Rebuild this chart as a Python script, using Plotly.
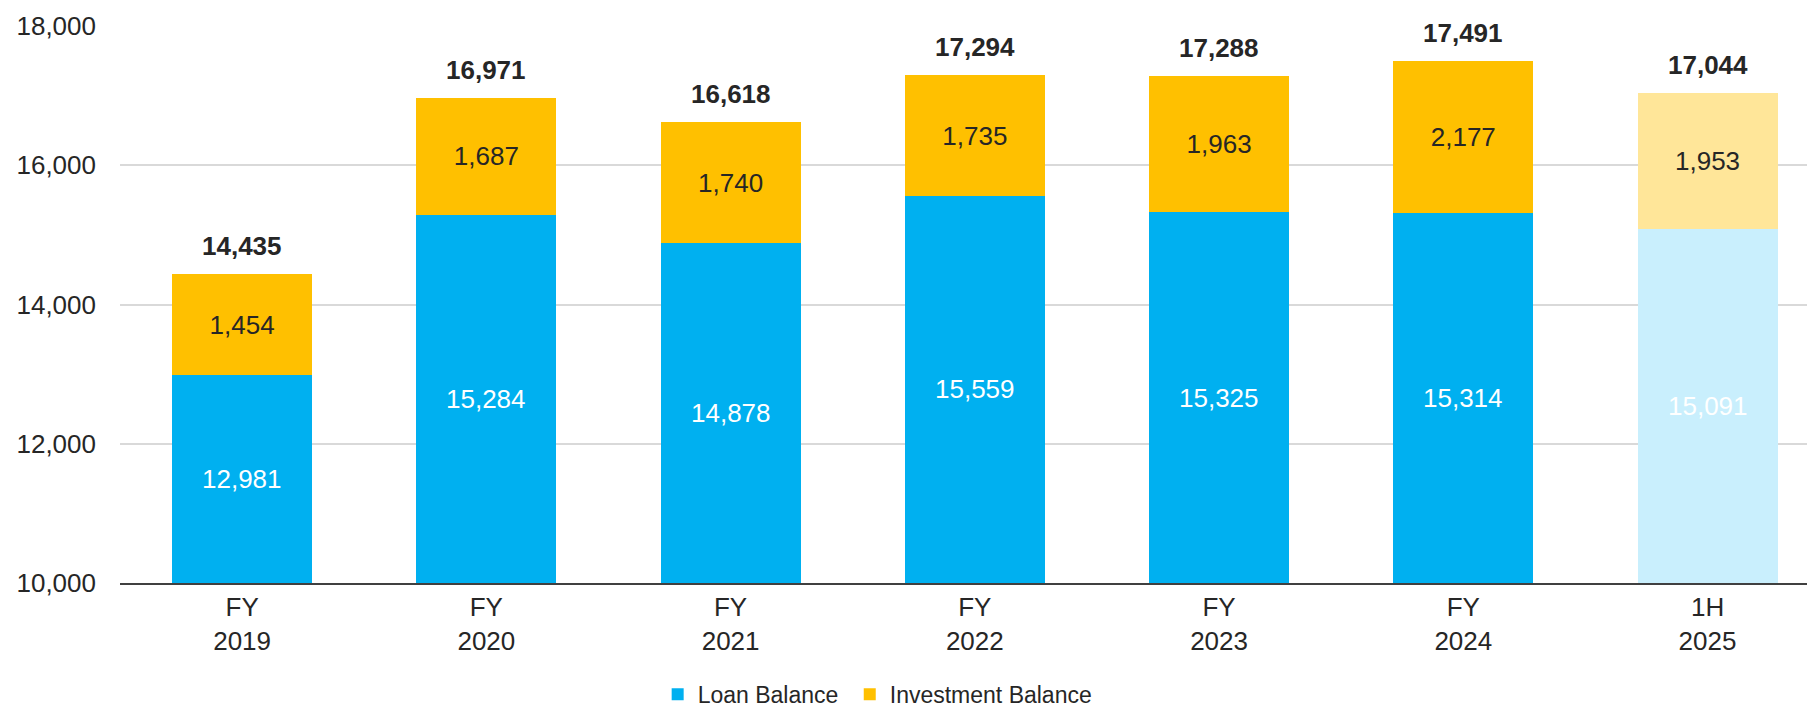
import plotly.graph_objects as go

# data
periods = ["FY<br>2019", "FY<br>2020", "FY<br>2021", "FY<br>2022", "FY<br>2023", "FY<br>2024", "1H<br>2025"]
loan_balance = [12981, 15284, 14878, 15559, 15325, 15314, 15091]
investment_balance = [1454, 1687, 1740, 1735, 1963, 2177, 1953]
totals = [14435, 16971, 16618, 17294, 17288, 17491, 17044]
y_min, y_max = 10000, 18000

COLOR_LOAN = "#00B0F0"
COLOR_LOAN_LIGHT = "#C9EFFD"
COLOR_INVEST = "#FFC000"
COLOR_INVEST_LIGHT = "#FFE699"
COLOR_TEXT = "#262626"
FONT = "Arial, Liberation Sans, sans-serif"

# last period (half year) shown in lighter tint
loan_colors = [COLOR_LOAN] * (len(periods) - 1) + [COLOR_LOAN_LIGHT]
invest_colors = [COLOR_INVEST] * (len(periods) - 1) + [COLOR_INVEST_LIGHT]

fig = go.Figure()
fig.add_trace(go.Bar(
    x=periods, y=loan_balance, name="Loan Balance\u00a0",  # nbsp widens legend gap a touch
    marker=dict(color=loan_colors, line_width=0),
    width=0.573,
))
fig.add_trace(go.Bar(
    x=periods, y=investment_balance, name="Investment Balance",
    marker=dict(color=invest_colors, line_width=0),
    text=[f"{v:,}" for v in investment_balance],
    textposition="inside", insidetextanchor="middle", textangle=0,
    textfont=dict(color=COLOR_TEXT, size=26, family=FONT),
    width=0.573,
))

# loan labels centred in the visible part of the bar (axis starts at y_min)
for p, v in zip(periods, loan_balance):
    fig.add_annotation(
        x=p, y=(y_min + v) / 2, text=f"{v:,}", showarrow=False,
        yanchor="middle", font=dict(size=26, color="white", family=FONT),
    )

for p, t in zip(periods, totals):
    fig.add_annotation(
        x=p, y=t, text=f"<b>{t:,}</b>", showarrow=False,
        yanchor="bottom", yshift=11,
        font=dict(size=26, color=COLOR_TEXT, family=FONT),
    )

# page body has an 8px margin, so the figure is sized to fit inside the window
fig.update_layout(
    barmode="stack",
    template="plotly_white",
    width=1807, height=701,
    margin=dict(t=18, b=126, l=112, r=0, autoexpand=False),
    font=dict(family=FONT, color=COLOR_TEXT, size=26),
    plot_bgcolor="white", paper_bgcolor="white",
    showlegend=True,
    legend=dict(
        orientation="h", x=0.447, xanchor="center", y=-0.161, yanchor="top",
        font=dict(size=23, color=COLOR_TEXT, family=FONT),
        traceorder="normal",
    ),
    xaxis=dict(
        range=[-0.5, 6.44], showgrid=False, showline=True,
        linecolor="#404040", linewidth=2, ticks="",
        tickfont=dict(size=26, color=COLOR_TEXT),
    ),
    yaxis=dict(
        range=[y_min, y_max], dtick=2000, tickformat=",",
        showgrid=True, gridcolor="#D9D9D9", gridwidth=1.5,
        zeroline=False, showline=False, ticklabelstandoff=23,
        tickfont=dict(size=26, color=COLOR_TEXT),
    ),
)

fig.write_html("out.html")
